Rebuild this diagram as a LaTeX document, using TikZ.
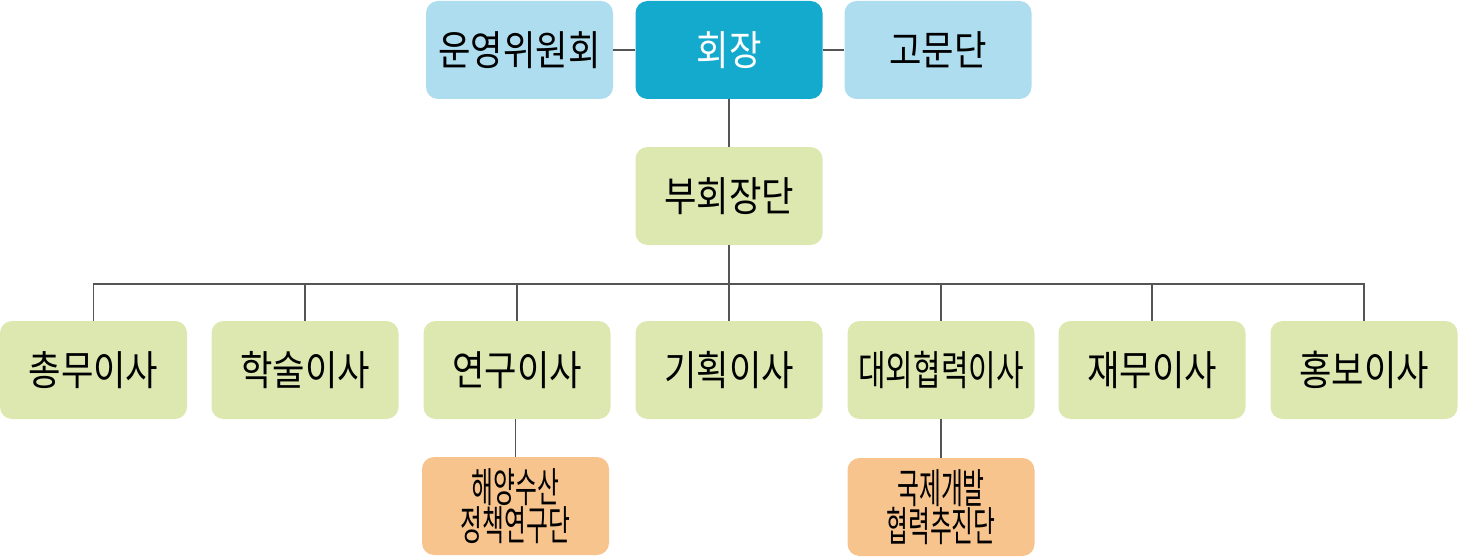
\documentclass[tikz,border=0pt]{standalone}
\usepackage{fontspec}
\setmainfont{Noto Sans CJK KR}
\usepackage{graphicx}
\definecolor{lblue}{HTML}{AEDDEF}
\definecolor{teal}{HTML}{13AACE}
\definecolor{lgreen}{HTML}{DCE8B0}
\definecolor{lorange}{HTML}{F8C48E}
\definecolor{linec}{HTML}{555555}
\tikzset{
  box/.style={rounded corners=12pt, minimum width=187pt, minimum height=98pt, inner sep=0pt, align=center, font=\fontsize{41}{44}\selectfont},
  bluebox/.style={box, fill=lblue},
  topbox/.style={box, fill=teal, text=white},
  greenbox/.style={box, fill=lgreen},
  orangebox/.style={box, fill=lorange, font=\fontsize{41}{38}\selectfont},
  conn/.style={draw=linec, line width=1.3pt},
}
\newcommand{\sx}[2]{\scalebox{#1}[1]{#2}}
\begin{document}
\begin{tikzpicture}[x=1pt,y=-1pt]
\useasboundingbox (0,0) rectangle (1458,559);
\node[bluebox] (ops) at (519.5,50) {\sx{0.86}{운영위원회}};
\node[topbox] (pres) at (729,50) {\sx{0.86}{회장}};
\node[bluebox] (adv) at (938,50) {\sx{0.86}{고문단}};
\node[greenbox] (vp) at (729,196) {\sx{0.86}{부회장단}};
\coordinate (bus) at (729,284);
\node[greenbox] (d1) at (93.5,370) {\sx{0.86}{총무이사}};
\node[greenbox] (d2) at (305,370) {\sx{0.86}{학술이사}};
\node[greenbox] (d3) at (517,370) {\sx{0.86}{연구이사}};
\node[greenbox] (d4) at (729,370) {\sx{0.86}{기획이사}};
\node[greenbox] (d5) at (941,370) {\sx{0.73}{대외협력이사}};
\node[greenbox] (d6) at (1152,370) {\sx{0.86}{재무이사}};
\node[greenbox] (d7) at (1364,370) {\sx{0.86}{홍보이사}};
\node[orangebox] (o1) at (515.5,506) {\sx{0.58}{해양수산}\\\sx{0.58}{정책연구단}};
\node[orangebox] (o2) at (941,507) {\sx{0.58}{국제개발}\\\sx{0.58}{협력추진단}};
\draw[conn] (ops.east) -- (pres.west);
\draw[conn] (pres.east) -- (adv.west);
\draw[conn] (pres.south) -- (vp.north);
\draw[conn] (vp.south) -- (bus);
\foreach \d in {d1,d2,d3,d4,d5,d6,d7}{
  \draw[conn] (bus) -| (\d.north);
}
\draw[conn] (d3.south -| o1.north) -- (o1.north);
\draw[conn] (d5.south) -- (o2.north);
\end{tikzpicture}
\end{document}
